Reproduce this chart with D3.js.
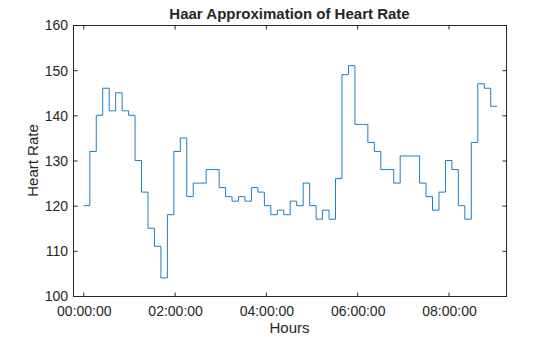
<!DOCTYPE html>
<html>
<head>
<meta charset="utf-8">
<script src="https://cdn.jsdelivr.net/npm/d3@7"></script>
<style>
  html, body { margin: 0; padding: 0; background: #fff; }
  svg { display: block; font-family: "Liberation Sans", Arial, sans-serif; }
</style>
</head>
<body>
<svg id="chart" width="560" height="337"></svg>
<script>
// Haar approximation coefficients (beats per minute), one per step
const heartRate = [
  120, 132, 140, 146, 141, 145, 141, 140, 130, 123,
  115, 111, 104, 118, 132, 135, 122, 125, 125, 128,
  128, 124, 122, 121, 122, 121, 124, 123, 120, 118,
  119, 118, 121, 120, 125, 120, 117, 119, 117, 126,
  149, 151, 138, 138, 134, 132, 128, 128, 125, 131,
  131, 131, 125, 122, 119, 123, 130, 128, 120, 117,
  134, 147, 146, 142
];
const stepMinutes = 8.5;          // duration of each approximation step
const xTickHours = [0, 2, 4, 6, 8];
const xTickLabels = ["00:00:00", "02:00:00", "04:00:00", "06:00:00", "08:00:00"];
const yTicks = [100, 110, 120, 130, 140, 150, 160];
const xLimits = [-0.226, 9.26];   // hours
const yLimits = [100, 160];

const svg = d3.select("#chart");
const margin = { left: 73, top: 25, right: 54, bottom: 41 };
const W = 560, H = 337;
const x = d3.scaleLinear().domain(xLimits).range([margin.left, W - margin.right]);
const y = d3.scaleLinear().domain(yLimits).range([H - margin.bottom, margin.top]);

// step points: each value held from its start time to the next
const pts = [];
heartRate.forEach((v, i) => pts.push({ t: i * stepMinutes / 60, v }));
pts.push({ t: heartRate.length * stepMinutes / 60, v: heartRate[heartRate.length - 1] });

const line = d3.line().x(d => x(d.t)).y(d => y(d.v)).curve(d3.curveStepAfter);

svg.append("path")
  .datum(pts)
  .attr("d", line)
  .attr("fill", "none")
  .attr("stroke", "#0072BD")
  .attr("stroke-width", 0.9);

// axes box
const axisColor = "#262626";
svg.append("rect")
  .attr("x", x(xLimits[0]) + 0.5).attr("y", y(yLimits[1]) + 0.5)
  .attr("width", x(xLimits[1]) - x(xLimits[0]))
  .attr("height", y(yLimits[0]) - y(yLimits[1]))
  .attr("fill", "none").attr("stroke", axisColor).attr("stroke-width", 1);

const tickLen = 4;
const fmt = d => xTickLabels[xTickHours.indexOf(d)];
const xAxis = d3.axisBottom(x).tickValues(xTickHours).tickFormat(fmt).tickSize(0).tickPadding(9.5);
const gx = svg.append("g").attr("transform", `translate(0.5,${y(yLimits[0]) + 0.5})`).call(xAxis);
gx.select(".domain").remove();
gx.selectAll("text").attr("font-size", 14).attr("fill", axisColor)
  .attr("font-family", "'Liberation Sans', Arial, sans-serif");

// ticks point inward, on bottom and top edges
xTickHours.forEach(h => {
  [[y(yLimits[0]), -tickLen], [y(yLimits[1]), tickLen]].forEach(([yy, d]) => {
    svg.append("line")
      .attr("x1", x(h) + 0.5).attr("x2", x(h) + 0.5)
      .attr("y1", yy + 0.5).attr("y2", yy + 0.5 + d)
      .attr("stroke", axisColor);
  });
});

const yAxis = d3.axisLeft(y).tickValues(yTicks).tickSize(0).tickPadding(5.5);
const gy = svg.append("g").attr("transform", `translate(${x(xLimits[0]) + 0.5},0.5)`).call(yAxis);
gy.select(".domain").remove();
gy.selectAll("text").attr("font-size", 14).attr("fill", axisColor)
  .attr("font-family", "'Liberation Sans', Arial, sans-serif");

yTicks.forEach(v => {
  [[x(xLimits[0]), tickLen], [x(xLimits[1]), -tickLen]].forEach(([xx, d]) => {
    svg.append("line")
      .attr("x1", xx + 0.5).attr("x2", xx + 0.5 + d)
      .attr("y1", y(v) + 0.5).attr("y2", y(v) + 0.5)
      .attr("stroke", axisColor);
  });
});

// labels
svg.append("text")
  .attr("x", (x(xLimits[0]) + x(xLimits[1])) / 2).attr("y", 19)
  .attr("text-anchor", "middle").attr("font-size", 15).attr("font-weight", "bold")
  .attr("fill", axisColor).text("Haar Approximation of Heart Rate");

svg.append("text")
  .attr("x", (x(xLimits[0]) + x(xLimits[1])) / 2).attr("y", 333)
  .attr("text-anchor", "middle").attr("font-size", 15)
  .attr("fill", axisColor).text("Hours");

svg.append("text")
  .attr("transform", `translate(38,${(y(yLimits[0]) + y(yLimits[1])) / 2}) rotate(-90)`)
  .attr("text-anchor", "middle").attr("font-size", 15)
  .attr("fill", axisColor).text("Heart Rate");
</script>
</body>
</html>
